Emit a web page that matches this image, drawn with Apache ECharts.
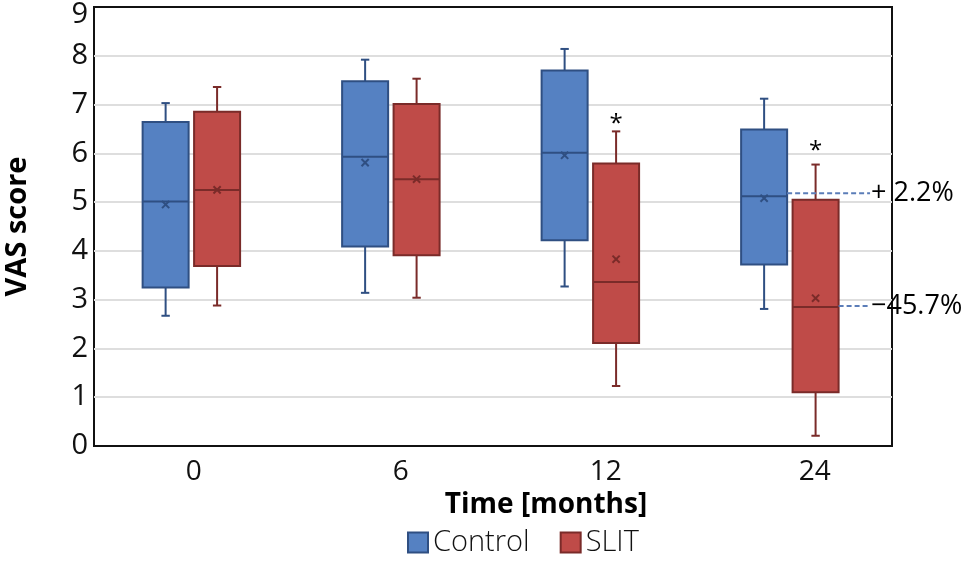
<!DOCTYPE html>
<html><head><meta charset="utf-8">
<script src="https://cdn.jsdelivr.net/npm/echarts@6/dist/echarts.min.js"></script>
<style>html,body{margin:0;padding:0;background:#fff}#c{width:962px;height:571px}</style>
</head><body><div id="c"></div>
<script>
// ---- data ----
const categories = ['0', '6', '12', '24'];
const controlMin    = [2.67, 3.14, 3.27, 2.81];
const controlQ1     = [3.25, 4.09, 4.22, 3.72];
const controlMedian = [5.01, 5.93, 6.01, 5.12];
const controlQ3     = [6.64, 7.48, 7.70, 6.49];
const controlMax    = [7.03, 7.92, 8.14, 7.12];
const controlMean   = [4.95, 5.81, 5.96, 5.08];
const slitMin    = [2.88, 3.04, 1.23, 0.21];
const slitQ1     = [3.69, 3.91, 2.11, 1.10];
const slitMedian = [5.25, 5.47, 3.36, 2.85];
const slitQ3     = [6.85, 7.01, 5.79, 5.05];
const slitMax    = [7.36, 7.53, 6.45, 5.77];
const slitMean   = [5.25, 5.47, 3.83, 3.03];
const starCategory = ['12', '24'];
const starValue    = [6.6, 6.04];
const changeLabels = ['+ 2.2%', '\u221245.7%'];
const changeValues = [5.18, 2.87];
const changeGroup  = ['Control', 'SLIT'];
const changeCategory = ['24', '24'];

// ---- layout / style ----
const FONT = "'Open Sans', 'Noto Sans', sans-serif";
const OFF = { Control: -0.141, SLIT: 0.117 };
const HALF = 0.1153, CAP = 0.021, MEAN_HALF = 0.018;
const CTRL_FILL = '#5581C2', CTRL_STROKE = '#2F4F82';
const SLIT_FILL = '#BF4B48', SLIT_STROKE = '#7A2B29';

function boxRenderer(off, fill, stroke) {
  return function (params, api) {
    const i = api.value(0);
    const band = api.size([1, 0])[0];
    const cx = api.coord([i, 0])[0] + off * band;
    const hw = HALF * band, cw = CAP * band, mw = MEAN_HALF * band;
    const Y = k => api.coord([i, api.value(k)])[1];
    const yMin = Y(1), yQ1 = Y(2), yMed = Y(3), yQ3 = Y(4), yMax = Y(5), yMean = Y(6);
    const ls = { stroke: stroke, lineWidth: 2, fill: null };
    return { type: 'group', children: [
      { type: 'line', shape: { x1: cx, y1: yMax, x2: cx, y2: yQ3 }, style: ls },
      { type: 'line', shape: { x1: cx, y1: yQ1, x2: cx, y2: yMin }, style: ls },
      { type: 'line', shape: { x1: cx - cw, y1: yMax, x2: cx + cw, y2: yMax }, style: ls },
      { type: 'line', shape: { x1: cx - cw, y1: yMin, x2: cx + cw, y2: yMin }, style: ls },
      { type: 'rect', shape: { x: cx - hw, y: yQ3, width: 2 * hw, height: yQ1 - yQ3 }, style: { fill: fill, stroke: stroke, lineWidth: 2 } },
      { type: 'line', shape: { x1: cx - hw, y1: yMed, x2: cx + hw, y2: yMed }, style: ls },
      { type: 'line', shape: { x1: cx - mw, y1: yMean - mw, x2: cx + mw, y2: yMean + mw }, style: ls },
      { type: 'line', shape: { x1: cx - mw, y1: yMean + mw, x2: cx + mw, y2: yMean - mw }, style: ls }
    ]};
  };
}

const controlData = categories.map((c, i) => [i, controlMin[i], controlQ1[i], controlMedian[i], controlQ3[i], controlMax[i], controlMean[i]]);
const slitData = categories.map((c, i) => [i, slitMin[i], slitQ1[i], slitMedian[i], slitQ3[i], slitMax[i], slitMean[i]]);
const starData = starCategory.map((c, k) => [categories.indexOf(c), starValue[k]]);
const changeData = changeValues.map((v, k) => [categories.indexOf(changeCategory[k]), v, k]);

const labelShift = [0, 15, 26, 45];
const rich = {};
categories.forEach((c, i) => { rich['s' + i] = { fontSize: 28, fontFamily: FONT, color: '#111', padding: [0, 0, 0, labelShift[i]] }; });

const chart = echarts.init(document.getElementById('c'));
chart.setOption({
  animation: false,
  backgroundColor: '#fff',
  grid: { left: 94, right: 70, top: 7, bottom: 125, show: true, borderColor: '#111', borderWidth: 2, backgroundColor: 'transparent',
          containLabel: false, outerBoundsMode: 'none' },
  legend: {
    data: ['Control', 'SLIT'], left: 402, top: 523, itemWidth: 20, itemHeight: 20, itemGap: 30, icon: 'rect',
    textStyle: { fontSize: 29, fontFamily: FONT, color: '#111', fontWeight: 300 }
  },
  xAxis: {
    type: 'category', data: categories,
    axisLine: { show: false }, axisTick: { show: false },
    axisLabel: { margin: 12, formatter: (v, i) => '{s' + i + '|' + v + '}', rich: rich },
    name: 'Time [months]', nameLocation: 'middle', nameGap: 43,
    nameTextStyle: { fontSize: 28, fontWeight: 'bold', fontFamily: FONT, color: '#000', padding: [0, 0, 0, 106] }
  },
  yAxis: {
    type: 'value', min: 0, max: 9, interval: 1,
    axisLine: { show: false }, axisTick: { show: false },
    axisLabel: { fontSize: 29, fontFamily: FONT, color: '#111', margin: 6,
      formatter: v => (v === 9 ? '{top|' + v + '}' : '{n|' + v + '}'),
      rich: { n: { fontSize: 29, fontFamily: FONT, color: '#111' },
              top: { fontSize: 29, fontFamily: FONT, color: '#111', padding: [15, 0, 0, 0] } } },
    splitLine: { show: true, showMinLine: false, showMaxLine: false, lineStyle: { color: '#DEDEDE', width: 2 } },
    name: 'VAS score', nameLocation: 'middle', nameGap: 62,
    nameTextStyle: { fontSize: 29, fontWeight: 'bold', fontFamily: FONT, color: '#000' }
  },
  series: [
    { name: 'Control', type: 'custom', data: controlData, encode: { x: 0, y: [1, 2, 3, 4, 5, 6] },
      itemStyle: { color: CTRL_FILL, borderColor: CTRL_STROKE, borderWidth: 1.5 },
      renderItem: boxRenderer(OFF.Control, CTRL_FILL, CTRL_STROKE) },
    { name: 'SLIT', type: 'custom', data: slitData, encode: { x: 0, y: [1, 2, 3, 4, 5, 6] },
      itemStyle: { color: SLIT_FILL, borderColor: SLIT_STROKE, borderWidth: 1.5 },
      renderItem: boxRenderer(OFF.SLIT, SLIT_FILL, SLIT_STROKE) },
    { name: 'stars', type: 'custom', data: starData, encode: { x: 0, y: 1 }, silent: true,
      renderItem: function (params, api) {
        const i = api.value(0);
        const band = api.size([1, 0])[0];
        const p = api.coord([i, api.value(1)]);
        return { type: 'text', x: p[0] + OFF.SLIT * band, y: p[1],
          style: { text: '*', fontSize: 24, fontFamily: FONT, fill: '#000', align: 'center', verticalAlign: 'middle' } };
      } },
    { name: 'changes', type: 'custom', data: changeData, encode: { x: 0, y: 1 }, silent: true, clip: false,
      renderItem: function (params, api) {
        const i = api.value(0), k = api.value(2);
        const band = api.size([1, 0])[0];
        const p = api.coord([i, api.value(1)]);
        const x0 = p[0] + (OFF[changeGroup[k]] + HALF) * band;
        const cs = params.coordSys;
        const xt = cs.x + cs.width - 0.105 * band;
        return { type: 'group', children: [
          { type: 'line', shape: { x1: x0, y1: p[1], x2: xt - 1, y2: p[1] },
            style: { stroke: '#5B7DB8', lineWidth: 2, lineDash: [5, 3] } },
          { type: 'text', x: xt, y: p[1],
            style: { text: changeLabels[k], fontSize: 27, fontFamily: FONT, fill: '#000', align: 'left', verticalAlign: 'middle' } }
        ]};
      } }
  ]
});
</script></body></html>
